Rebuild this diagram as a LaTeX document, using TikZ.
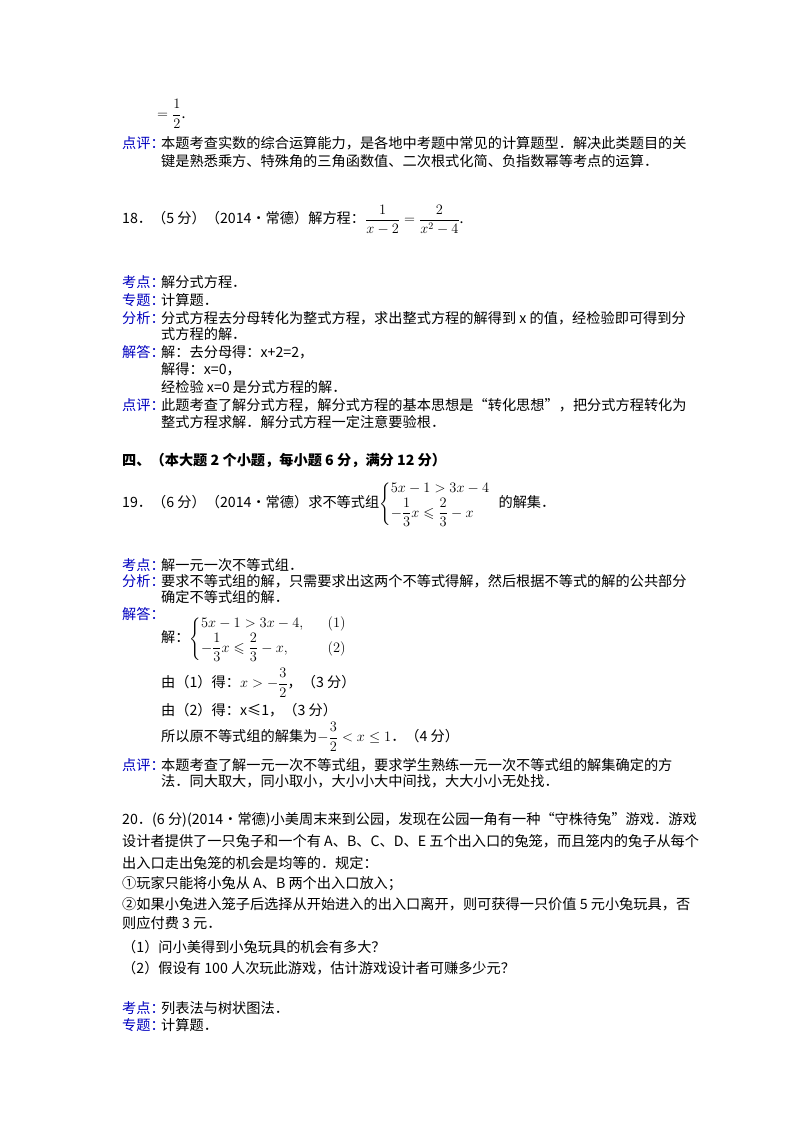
\documentclass[tikz,border=0pt]{standalone}
\usepackage{amsmath,amssymb}
\usepackage{fontspec}
\setmainfont{Noto Sans CJK SC}
\begin{document}
\begin{tikzpicture}[x=1pt,y=-1pt,
  t/.style={anchor=west,inner sep=0pt,font=\fontsize{14.2}{16}\selectfont},
  lab/.style={t,text=blue!75!black}]
\fill[white] (0,0) rectangle (800,1132);
\useasboundingbox (0,0) rectangle (800,1132);
\def\L{122}\def\C{161}
\node[t] (a0) at (\C-4,114) {$=\dfrac{1}{2}$.};
\node[lab] (a1) at (\L,143) {点评：};
\node[t] (a2) at (\C,143) {本题考查实数的综合运算能力，是各地中考题中常见的计算题型．解决此类题目的关};
\node[t] (a3) at (\C,161) {键是熟悉乘方、特殊角的三角函数值、二次根式化简、负指数幂等考点的运算．};
\node[t] (b0) at (\L,220) {18．（5 分）（2014•常德）解方程：$\dfrac{1}{x-2}=\dfrac{2}{x^{2}-4}$.};
\node[lab] (b1) at (\L,282) {考点：};
\node[t] (b1t) at (\C,282) {解分式方程．};
\node[lab] (b2) at (\L,300) {专题：};
\node[t] (b2t) at (\C,300) {计算题．};
\node[lab] (b3) at (\L,318) {分析：};
\node[t] (b3t) at (\C,318) {分式方程去分母转化为整式方程，求出整式方程的解得到 x 的值，经检验即可得到分};
\node[t] (b3u) at (\C,334) {式方程的解．};
\node[lab] (b4) at (\L,352) {解答：};
\node[t] (b4t) at (\C,352) {解：去分母得：x+2=2，};
\node[t] (b4u) at (\C,369) {解得：x=0，};
\node[t] (b4v) at (\C,387) {经检验 x=0 是分式方程的解．};
\node[lab] (b5) at (\L,405) {点评：};
\node[t] (b5t) at (\C,405) {此题考查了解分式方程，解分式方程的基本思想是“转化思想”，把分式方程转化为};
\node[t] (b5u) at (\C,422) {整式方程求解．解分式方程一定注意要验根．};
\node[t,font=\fontsize{14.2}{16}\selectfont\bfseries] (c0) at (\L,460) {四、（本大题 2 个小题，每小题 6 分，满分 12 分）};
\node[t] (c1) at (\L,504) {19．（6 分）（2014•常德）求不等式组$\left\{\begin{array}{@{}l}5x-1>3x-4\\[1pt] -\dfrac{1}{3}x\leqslant\dfrac{2}{3}-x\end{array}\right.$ 的解集．};
\node[lab] (d1) at (\L,565) {考点：};
\node[t] (d1t) at (\C,565) {解一元一次不等式组．};
\node[lab] (d2) at (\L,581) {分析：};
\node[t] (d2t) at (\C,581) {要求不等式组的解，只需要求出这两个不等式得解，然后根据不等式的解的公共部分};
\node[t] (d2u) at (\C,597) {确定不等式组的解．};
\node[lab] (d3) at (\L,614) {解答：};
\node[t] (d3t) at (\C,639) {解：$\left\{\begin{array}{@{}ll}5x-1>3x-4,\quad & (1)\\[1pt] -\dfrac{1}{3}x\leqslant\dfrac{2}{3}-x,\quad & (2)\end{array}\right.$};
\node[t] (d4) at (\C,683) {由（1）得：$x>-\dfrac{3}{2}$，（3 分）};
\node[t] (d5) at (\C,710) {由（2）得：x≤1，（3 分）};
\node[t] (d6) at (\C,737) {所以原不等式组的解集为$-\dfrac{3}{2}<x\leq 1$．（4 分）};
\node[lab] (d7) at (\L,765) {点评：};
\node[t] (d7t) at (\C,765) {本题考查了解一元一次不等式组，要求学生熟练一元一次不等式组的解集确定的方};
\node[t] (d7u) at (\C,781) {法．同大取大，同小取小，大小小大中间找，大大小小无处找．};
\node[t] (e1) at (\L,820) {20．(6 分)(2014•常德)小美周末来到公园，发现在公园一角有一种“守株待兔”游戏．游戏};
\node[t] (e2) at (\L,841) {设计者提供了一只兔子和一个有 A、B、C、D、E 五个出入口的兔笼，而且笼内的兔子从每个};
\node[t] (e3) at (\L,863) {出入口走出兔笼的机会是均等的．规定：};
\node[t] (e4) at (\L,884) {①玩家只能将小兔从 A、B 两个出入口放入；};
\node[t] (e5) at (\L,904) {②如果小兔进入笼子后选择从开始进入的出入口离开，则可获得一只价值 5 元小兔玩具，否};
\node[t] (e6) at (\L,923) {则应付费 3 元．};
\node[t] (e7) at (\L,947) {（1）问小美得到小兔玩具的机会有多大？};
\node[t] (e8) at (\L,968) {（2）假设有 100 人次玩此游戏，估计游戏设计者可赚多少元？};
\node[lab] (f1) at (\L,1008) {考点：};
\node[t] (f1t) at (\C,1008) {列表法与树状图法．};
\node[lab] (f2) at (\L,1025) {专题：};
\node[t] (f2t) at (\C,1025) {计算题．};
\end{tikzpicture}
\end{document}
